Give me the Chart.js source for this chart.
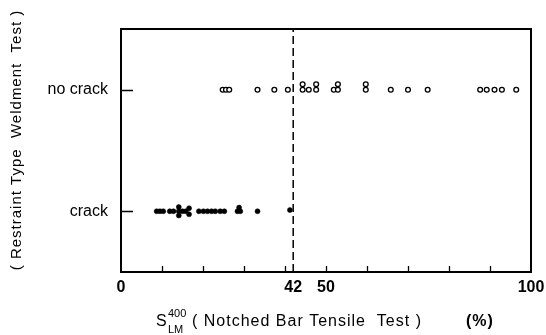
<!DOCTYPE html>
<html>
<head>
<meta charset="utf-8">
<script src="https://cdn.jsdelivr.net/npm/chart.js@4/dist/chart.umd.min.js"></script>
<style>
  html, body { margin: 0; padding: 0; background: #fff; }
  #wrap { width: 546px; height: 335px; }
</style>
</head>
<body>
<div id="wrap"><canvas id="chart" width="546" height="335"></canvas></div>
<script>
// data
const xTickLabels = [0, 42, 50, 100];
const minorTicks = [10, 20, 30, 40, 50, 60, 70, 80, 90];
const yCategories = ['crack', 'no crack'];
const yLevels = [1, 3];
const threshold = 42;

// open circles: no crack
const noCrackX = [24.8, 25.6, 26.4, 33.3, 37.4, 40.7, 44.3, 44.3, 45.8, 47.6, 47.6,
                  51.9, 52.9, 52.9, 59.7, 59.7, 65.8, 70.0, 74.8, 87.6, 89.2, 91.1, 92.9, 96.4];
const noCrackY = [3, 3, 3, 3, 3, 3, 3, 3.09, 3, 3, 3.09,
                  3, 3, 3.09, 3, 3.09, 3, 3, 3, 3, 3, 3, 3, 3];

// filled dots: crack
const crackX = [8.7, 9.5, 10.3, 11.9, 12.8, 14.1, 14.1, 14.1, 15.0, 15.8, 16.6, 16.6,
                19.0, 20.1, 21.1, 22.1, 23.0, 24.2, 25.2, 28.4, 29.1, 28.8, 33.3, 41.2];
const crackY = [1, 1, 1, 1, 1, 1, 1.07, 0.93, 1, 1, 1.05, 0.95,
                1, 1, 1, 1, 1, 1, 1, 1, 1, 1.06, 1, 1.02];

const toPts = (xs, ys) => xs.map((x, i) => ({ x: x, y: ys[i] }));

const FONT = '"Liberation Sans", Arial, sans-serif';

const framePlugin = {
  id: 'frame',
  afterDraw(chart) {
    const ctx = chart.ctx;
    const a = chart.chartArea;
    const xs = chart.scales.x;
    const ys = chart.scales.y;
    ctx.save();
    ctx.strokeStyle = '#000';
    ctx.lineWidth = 2;
    ctx.strokeRect(a.left, a.top, a.right - a.left, a.bottom - a.top);

    // inward tick marks
    ctx.lineWidth = 1.3;
    ctx.beginPath();
    minorTicks.forEach(v => {
      const px = Math.round(xs.getPixelForValue(v)) + 0.5;
      ctx.moveTo(px, a.bottom);
      ctx.lineTo(px, a.bottom - 6);
    });
    yLevels.forEach(v => {
      const py = Math.round(ys.getPixelForValue(v)) + 0.5;
      ctx.moveTo(a.left, py);
      ctx.lineTo(a.left + 12, py);
    });
    ctx.stroke();

    // axis titles
    ctx.fillStyle = '#000';
    ctx.textBaseline = 'alphabetic';
    ctx.textAlign = 'left';
    const ty = 326;
    ctx.font = '16px ' + FONT;
    ctx.fillText('S', 156, ty);
    ctx.font = '11px ' + FONT;
    ctx.fillText('400', 168, ty - 9);
    ctx.fillText('LM', 168, ty + 7);
    ctx.letterSpacing = '1px';
    ctx.font = '16px ' + FONT;
    ctx.fillText('( Notched Bar Tensile  Test )', 192, ty);
    ctx.font = 'bold 16px ' + FONT;
    ctx.letterSpacing = '1px';
    ctx.fillText('(%)', 466, ty);

    ctx.translate(21, 140);
    ctx.rotate(-Math.PI / 2);
    ctx.textAlign = 'center';
    ctx.letterSpacing = '1px';
    ctx.font = '15px ' + FONT;
    ctx.fillText('( Restraint Type  Weldment  Test )', 0, 0);
    ctx.restore();
  }
};

new Chart(document.getElementById('chart'), {
  type: 'scatter',
  data: {
    datasets: [
      {
        label: 'threshold',
        type: 'line',
        data: [{ x: threshold, y: 0 }, { x: threshold, y: 4 }],
        borderColor: '#000',
        borderWidth: 1.5,
        borderDash: [8, 4],
        pointRadius: 0
      },
      {
        label: 'no crack',
        data: toPts(noCrackX, noCrackY),
        pointStyle: 'circle',
        pointRadius: 2.4,
        borderWidth: 1.3,
        borderColor: '#000',
        backgroundColor: '#fff'
      },
      {
        label: 'crack',
        data: toPts(crackX, crackY),
        pointStyle: 'circle',
        pointRadius: 2.5,
        borderWidth: 0.5,
        borderColor: '#000',
        backgroundColor: '#000'
      }
    ]
  },
  options: {
    responsive: false,
    animation: false,
    layout: { padding: { left: 0, right: 15, top: 29, bottom: 0 } },
    plugins: { legend: { display: false }, tooltip: { enabled: false } },
    scales: {
      x: {
        type: 'linear',
        min: 0,
        max: 100,
        afterBuildTicks: s => { s.ticks = xTickLabels.map(v => ({ value: v })); },
        afterFit: s => { s.height = 63; s.paddingLeft = 0; s.paddingRight = 0; },
        grid: { display: false, drawTicks: false },
        border: { display: false },
        ticks: {
          color: '#000',
          padding: 6,
          maxRotation: 0,
          autoSkip: false,
          font: { family: FONT, size: 16, weight: 'bold' }
        }
      },
      y: {
        type: 'linear',
        min: 0,
        max: 4,
        afterBuildTicks: s => { s.ticks = yLevels.map(v => ({ value: v })); },
        afterFit: s => { s.width = 121; },
        grid: { display: false, drawTicks: false },
        border: { display: false },
        ticks: {
          color: '#000',
          padding: 13,
          autoSkip: false,
          font: { family: FONT, size: 16 },
          callback: v => yCategories[yLevels.indexOf(v)]
        }
      }
    }
  },
  plugins: [framePlugin]
});
</script>
</body>
</html>
